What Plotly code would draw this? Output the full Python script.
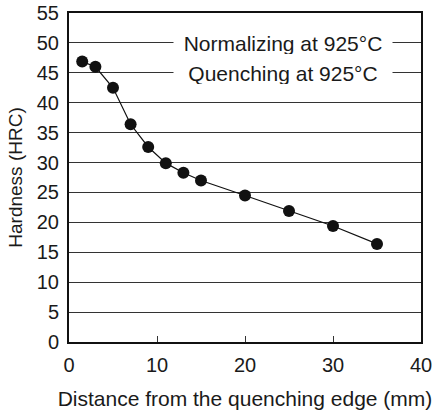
import plotly.graph_objects as go

distance_mm = [1.5, 3, 5, 7, 9, 11, 13, 15, 20, 25, 30, 35]
hardness_hrc = [46.9, 46.0, 42.5, 36.4, 32.6, 29.9, 28.3, 27.0, 24.5, 21.9, 19.4, 16.4]

x_ticks = [0, 10, 20, 30, 40]
y_ticks = [0, 5, 10, 15, 20, 25, 30, 35, 40, 45, 50, 55]

labels = ["Normalizing at 925°C", "Quenching at 925°C"]
label_y = [50, 45]
label_x = 24.3

FONT = "Arial, Liberation Sans, sans-serif"
TXT = "#1a1a1a"

fig = go.Figure()
fig.add_trace(go.Scatter(
    x=distance_mm, y=hardness_hrc, mode="lines+markers",
    line=dict(color="#111", width=1.2),
    marker=dict(color="#111", size=12),
    showlegend=False,
))

for t, yv in zip(labels, label_y):
    fig.add_annotation(x=label_x, y=yv, xref="x", yref="y", text=t,
                       showarrow=False, bgcolor="white", borderpad=0,
                       width=218, height=22, align="center",
                       font=dict(family=FONT, size=21, color=TXT))

fig.update_layout(
    width=439, height=412,
    margin=dict(l=69, r=18, t=13, b=70),
    paper_bgcolor="white", plot_bgcolor="white",
    font=dict(family=FONT, size=20, color=TXT),
)
fig.update_xaxes(
    range=[0, 40], tickvals=x_ticks, ticktext=[str(v) for v in x_ticks],
    showgrid=False, zeroline=False, automargin=False,
    showline=True, linecolor="#111", linewidth=2, mirror=True,
    ticks="inside", ticklen=6, tickcolor="#333", tickwidth=1,
    ticklabelstandoff=4,
    title=dict(text="Distance from the quenching edge (mm)", standoff=16,
               font=dict(family=FONT, size=21, color=TXT)),
)
fig.update_yaxes(
    range=[0, 55], tickvals=y_ticks, ticktext=[str(v) for v in y_ticks],
    showgrid=True, gridcolor="#333", gridwidth=1, zeroline=False, automargin=False,
    showline=True, linecolor="#111", linewidth=2, mirror=True,
    ticks="", ticklabelstandoff=4,
    title=dict(text="Hardness (HRC)", standoff=9,
               font=dict(family=FONT, size=19, color=TXT)),
)

fig.write_html("out.html", config={"displayModeBar": False},
               post_script="document.body.style.margin='0px';")
